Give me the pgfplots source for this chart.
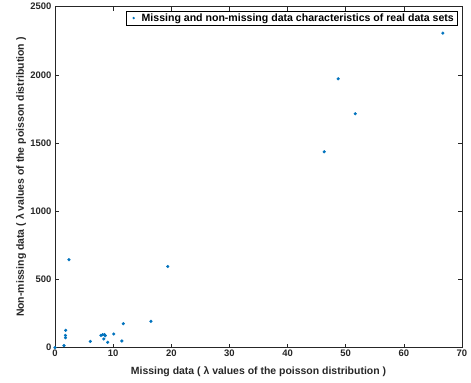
\documentclass[border=0pt]{standalone}
\usepackage{pgfplots}
\pgfplotsset{compat=1.18}
\usepackage{fontspec}
\setmainfont{Liberation Sans}
\definecolor{mblue}{RGB}{0,114,189}
\definecolor{axgray}{RGB}{38,38,38}
\begin{document}
\begin{tikzpicture}[x=1bp,y=1bp]
\begin{axis}[
  at={(0,0)}, anchor=origin,
  scale only axis,
  width=407bp, height=341bp,
  xmin=0, xmax=70, ymin=0, ymax=2500,
  xtick={0,10,...,70}, ytick={0,500,...,2500},
  tick align=inside,
  major tick length=4bp,
  clip mode=individual,
  axis line style={axgray, line width=0.5pt},
  every tick/.style={axgray, line width=0.5pt},
  tick label style={font=\fontsize{9.5}{11}\selectfont\bfseries, text=axgray},
  /pgf/number format/assume math mode=true,
  /pgf/number format/1000 sep={},
  scaled ticks=false,
  xlabel={\fontsize{10.5}{12}\selectfont\bfseries Missing data ( λ values of the poisson distribution )},
  ylabel={\fontsize{10.5}{12}\selectfont\bfseries Non-missing data ( λ values of the poisson distribution )},
  xlabel style={at={(axis description cs:0.5,-0.0704)}, anchor=center, text=axgray},
  ylabel style={at={(axis description cs:-0.0835,0.5)}, anchor=center, text=axgray},
  xticklabel style={yshift=1bp},
  legend style={at={(rel axis cs:0.988,0.988)}, anchor=north east, draw=black, line width=0.5pt,
    font=\fontsize{10.6}{12}\selectfont\bfseries, inner xsep=1pt, inner ysep=0.5pt, row sep=0pt,
    legend cell align=left},
  legend image code/.code={\path[draw=none,fill=none] (0bp,0) -- (12bp,0); \fill[mblue,draw=none] (6bp,0) circle (1.3pt);},
]
\addplot[only marks, mark=*, mark size=1.4pt, mark options={draw=mblue, fill=mblue}] coordinates {
(0,0) (1.55,15) (1.84,127) (1.8,90) (1.8,73) (2.4,645)
(6.07,46) (7.9,90) (8.2,95) (8.5,96) (8.4,64) (8.65,88) (9.06,39)
(10.1,100) (11.5,49) (11.75,176) (16.5,193) (19.4,595)
(46.3,1436) (48.7,1971) (51.65,1715) (66.7,2306)
};
\addlegendentry{Missing and non-missing data characteristics of real data sets}
\end{axis}
\path[use as bounding box] (-55bp,-35bp) rectangle (416bp,344bp);
\end{tikzpicture}
\end{document}
